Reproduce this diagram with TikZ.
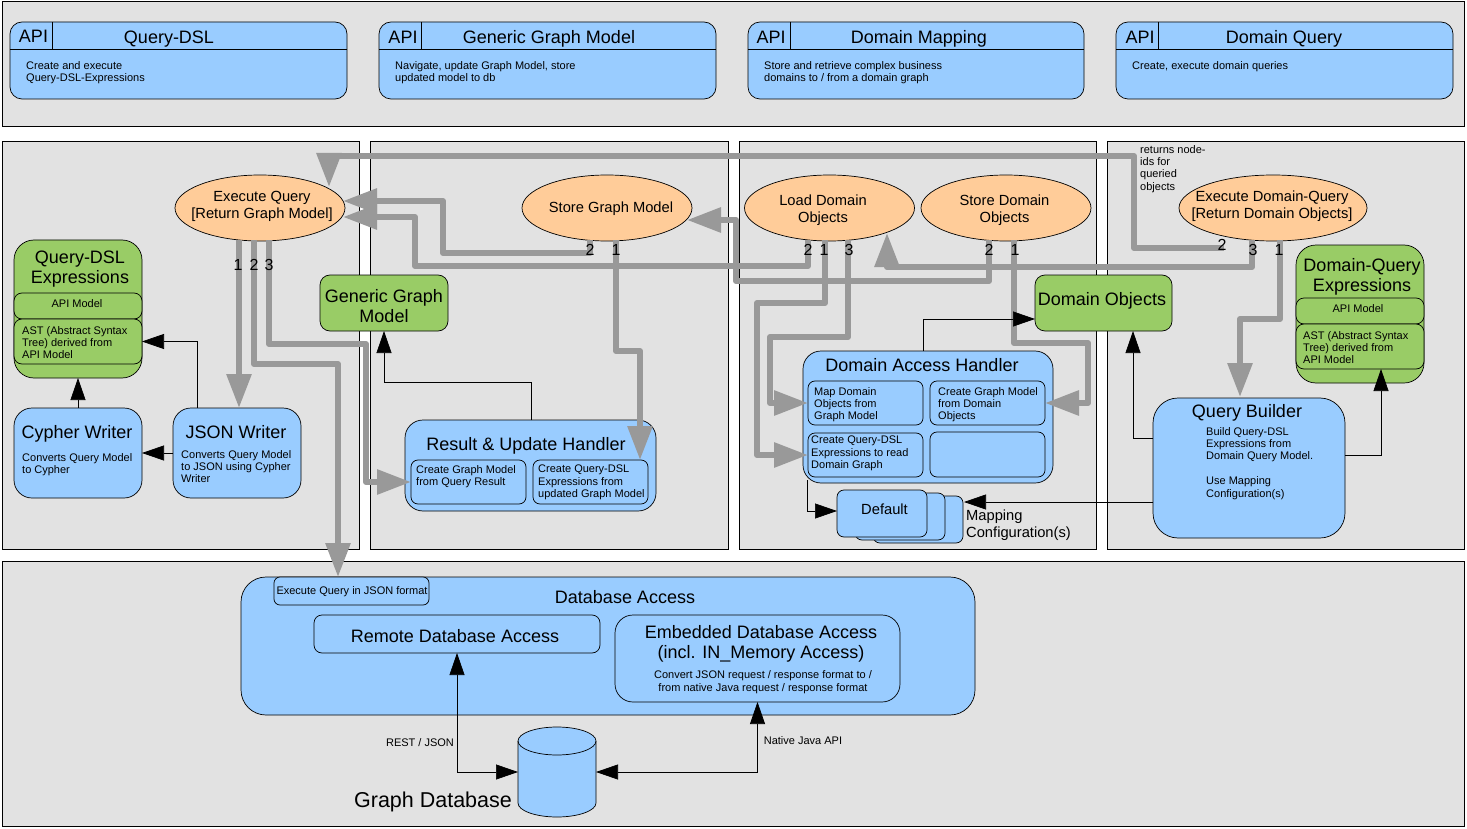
\documentclass[tikz,border=0pt]{standalone}
\usepackage{fontspec}
\setmainfont{Liberation Sans}
\usetikzlibrary{arrows.meta,shapes.geometric}
\definecolor{panelgrey}{HTML}{E2E2E2}
\definecolor{flowgrey}{HTML}{999999}
\definecolor{boxblue}{HTML}{99CCFF}
\definecolor{boxgreen}{HTML}{99CC66}
\definecolor{boxorange}{HTML}{FFCC99}
\newcommand{\bigfont}{\fontsize{18pt}{20pt}\selectfont}
\newcommand{\midfont}{\fontsize{14.7pt}{17pt}\selectfont}
\newcommand{\smallfont}{\fontsize{11pt}{12.4pt}\selectfont}
\tikzset{
  panel/.style={draw=black,line width=1pt,fill=panelgrey},
  box/.style={draw=black,line width=0.7pt,inner sep=0pt,outer sep=0pt},
  bluebox/.style={box,fill=boxblue},
  greenbox/.style={box,fill=boxgreen},
  usecase/.style={box,ellipse,fill=boxorange,minimum width=170pt,minimum height=66pt},
  bigtext/.style={inner sep=0pt,align=center,font=\bigfont},
  midtext/.style={inner sep=0pt,align=center,font=\midfont},
  smalltext/.style={inner sep=0pt,align=left,font=\smallfont,anchor=north west,yshift=-1pt},
  labeltext/.style={inner sep=0pt,align=center,font=\smallfont},
  portnum/.style={inner sep=0pt,font=\fontsize{16pt}{18pt}\selectfont},
  flow/.style={draw=flowgrey,line width=6pt,line join=round,-{Triangle[length=34pt,width=24pt]}},
  link/.style={draw=black,line width=0.7pt,-{Triangle[length=22pt,width=15pt]}},
  dblink/.style={draw=black,line width=0.7pt,{Triangle[length=22pt,width=15pt]}-{Triangle[length=22pt,width=15pt]}}
}
\begin{document}
\begin{tikzpicture}[x=1pt,y=-1pt]
\useasboundingbox (0,0) rectangle (1467,829);

% Panels
\draw[panel] (2,2) rectangle (1464,127);
\draw[panel] (2,142) rectangle (359,549);
\draw[panel] (370,142) rectangle (728,549);
\draw[panel] (739,142) rectangle (1096,549);
\draw[panel] (1107,142) rectangle (1464,549);
\draw[panel] (2,561) rectangle (1464,826);

% API boxes
\node[bluebox,rounded corners=12pt,minimum width=337pt,minimum height=77pt] (apidsl) at (178.5,60.5) {};
\node[bluebox,rounded corners=12pt,minimum width=337pt,minimum height=77pt] (apigraph) at (547.5,60.5) {};
\node[bluebox,rounded corners=12pt,minimum width=336pt,minimum height=77pt] (apimap) at (916,60.5) {};
\node[bluebox,rounded corners=12pt,minimum width=337pt,minimum height=77pt] (apiquery) at (1284.5,60.5) {};
\draw[box] (10,49) -- (347,49) (52,22) -- (52,49);
\draw[box] (379,49) -- (716,49) (421,22) -- (421,49);
\draw[box] (748,49) -- (1084,49) (790,22) -- (790,49);
\draw[box] (1116,49) -- (1453,49) (1158,22) -- (1158,49);
\node[bigtext] (apidsl1) at (33.5,36) {API};
\node[bigtext] (apigraph1) at (403,37) {API};
\node[bigtext] (apimap1) at (771,37) {API};
\node[bigtext] (apiquery1) at (1140,37) {API};
\node[bigtext] (apidsl2) at (169,39) {Query-DSL};
\node[bigtext] (apigraph2) at (549,39) {Generic Graph Model};
\node[bigtext] (apimap2) at (919,39) {Domain Mapping};
\node[bigtext] (apiquery2) at (1284,39) {Domain Query};
\node[smalltext] (apidsl3) at (26,60) {Create and execute\\Query-DSL-Expressions};
\node[smalltext] (apigraph3) at (395,60) {Navigate, update Graph Model, store\\updated model to db};
\node[smalltext] (apimap3) at (764,60) {Store and retrieve complex business\\domains to / from a domain graph};
\node[smalltext] (apiquery3) at (1132,60) {Create, execute domain queries};

% Use cases
\node[usecase] (execquery) at (260,208) {};
\node[usecase] (storegraph) at (607,208) {};
\node[usecase] (loaddomain) at (829.5,208) {};
\node[usecase] (storedomain) at (1006,208) {};
\node[usecase,minimum width=188pt] (execdomain) at (1273,208) {};
\node[midtext] (execquerytext) at (262,206) {Execute Query\\{[Return Graph Model]}};
\node[midtext] (storegraphtext) at (611,209) {Store Graph Model};
\node[midtext] (loaddomaintext) at (823,210.5) {Load Domain\\Objects};
\node[midtext] (storedomaintext) at (1004.5,210.5) {Store Domain\\Objects};
\node[midtext] (execdomaintext) at (1272,206) {Execute Domain-Query\\{[Return Domain Objects]}};

% Query-DSL side
\node[greenbox,rounded corners=20pt,minimum width=128pt,minimum height=138pt] (dslexpr) at (78,309) {};
\node[bigtext] (dsltitle) at (80,269) {Query-DSL\\Expressions};
\node[greenbox,rounded corners=8pt,minimum width=128pt,minimum height=26pt] (dslapi) at (78,306) {};
\node[greenbox,rounded corners=8pt,minimum width=128pt,minimum height=45pt] (dslast) at (78,341.5) {};
\node[labeltext] (dslapitext) at (77,304) {API Model};
\node[smalltext] (dslasttext) at (22,325) {AST (Abstract Syntax\\Tree) derived from\\API Model};
\node[bluebox,rounded corners=18pt,minimum width=128pt,minimum height=90pt] (cypher) at (78,453) {};
\node[bigtext] (cyphertitle) at (77,434) {Cypher Writer};
\node[smalltext] (cyphertext) at (22,452) {Converts Query Model\\to Cypher};
\node[bluebox,rounded corners=18pt,minimum width=128pt,minimum height=90pt] (json) at (237,453) {};
\node[bigtext] (jsontitle) at (236,432) {JSON Writer};
\node[smalltext] (jsontext) at (181,449) {Converts Query Model\\to JSON using Cypher\\Writer};

% Graph model side
\node[greenbox,rounded corners=10pt,minimum width=128pt,minimum height=56pt] (graphmodel) at (384,303) {};
\node[bigtext] (graphmodeltext) at (384,306) {Generic Graph\\Model};
\node[bluebox,rounded corners=18pt,minimum width=251pt,minimum height=91pt] (result) at (530.5,465.5) {};
\node[bigtext] (resulttitle) at (526,446) {Result \& Update Handler};
\node[bluebox,rounded corners=7pt,minimum width=115pt,minimum height=44pt] (result1) at (468.5,482) {};
\node[bluebox,rounded corners=7pt,minimum width=115pt,minimum height=44pt] (result2) at (590.5,482) {};
\node[smalltext] (result1text) at (416,464) {Create Graph Model\\from Query Result};
\node[smalltext] (result2text) at (538,464) {Create Query-DSL\\Expressions from\\updated Graph Model};

% Domain handler side
\node[bluebox,rounded corners=18pt,minimum width=250pt,minimum height=132pt] (handler) at (928,417) {};
\node[bigtext] (handlertitle) at (922,365) {Domain Access Handler};
\node[bluebox,rounded corners=7pt,minimum width=115pt,minimum height=44pt] (handler1) at (865.5,403) {};
\node[bluebox,rounded corners=7pt,minimum width=115pt,minimum height=44pt] (handler2) at (987.5,403) {};
\node[bluebox,rounded corners=7pt,minimum width=115pt,minimum height=44pt] (handler3) at (865.5,455) {};
\node[bluebox,rounded corners=7pt,minimum width=115pt,minimum height=45pt] (handler4) at (987.5,454.5) {};
\node[smalltext] (handler1text) at (814,386) {Map Domain\\Objects from\\Graph Model};
\node[smalltext] (handler2text) at (938,386) {Create Graph Model\\from Domain\\Objects};
\node[smalltext] (handler3text) at (811,435) {Create Query-DSL\\Expressions to read\\Domain Graph};

% Mapping stack
\node[bluebox,rounded corners=7pt,minimum width=90pt,minimum height=47pt] (stack3) at (918,519.5) {};
\node[bluebox,rounded corners=7pt,minimum width=90pt,minimum height=47pt] (stack2) at (900,516.5) {};
\node[bluebox,rounded corners=7pt,minimum width=90pt,minimum height=47pt] (stack1) at (882,513.5) {};
\node[midtext] (stack1text) at (884.5,509) {Default};
\node[midtext,align=left,anchor=north west] (mappingtext) at (966,510) {Mapping\\Configuration(s)};

% Domain objects and query builder
\node[greenbox,rounded corners=10pt,minimum width=137pt,minimum height=56pt] (domainobj) at (1103.5,303) {};
\node[bigtext] (domainobjtext) at (1102,301) {Domain Objects};
\node[greenbox,rounded corners=20pt,minimum width=128pt,minimum height=138pt] (dqexpr) at (1360,314) {};
\node[bigtext] (dqtitle) at (1362,277) {Domain-Query\\Expressions};
\node[greenbox,rounded corners=8pt,minimum width=128pt,minimum height=26pt] (dqapi) at (1360,311) {};
\node[greenbox,rounded corners=8pt,minimum width=128pt,minimum height=45pt] (dqast) at (1360,346.5) {};
\node[labeltext] (dqapitext) at (1358,309) {API Model};
\node[smalltext] (dqasttext) at (1303,330) {AST (Abstract Syntax\\Tree) derived from\\API Model};
\node[bluebox,rounded corners=25pt,minimum width=192pt,minimum height=140pt] (builder) at (1249,468) {};
\node[bigtext] (buildertitle) at (1247,413) {Query Builder};
\node[smalltext] (buildertext) at (1206,426) {Build Query-DSL\\Expressions from\\Domain Query Model.\\ \\Use Mapping\\Configuration(s)};
\node[smalltext] (returnstext) at (1140,144) {returns node-\\ids for\\queried\\objects};

% Database
\node[bluebox,rounded corners=25pt,minimum width=734pt,minimum height=138pt] (dbaccess) at (608,646) {};
\node[bigtext] (dbtitle) at (625,597) {Database Access};
\node[bluebox,rounded corners=6pt,minimum width=155pt,minimum height=28pt] (jsonquery) at (351.5,591) {};
\node[labeltext] (jsonquerytext) at (352,592) {Execute Query in JSON format};
\node[bluebox,rounded corners=8pt,minimum width=286pt,minimum height=38pt] (remote) at (457,634) {};
\node[bigtext] (remotetext) at (455,636) {Remote Database Access};
\node[bluebox,rounded corners=18pt,minimum width=285pt,minimum height=87pt] (embedded) at (757.5,658.5) {};
\node[bigtext] (embeddedtitle) at (761,644) {Embedded Database Access\\(incl. IN\_Memory Access)};
\node[labeltext] (embeddedtext) at (763,682) {Convert JSON request / response format to /\\from native Java request / response format};
\filldraw[box,fill=boxblue] (518,741) .. controls (518,733.3) and (535.55,727) .. (557,727) .. controls (578.45,727) and (596,733.3) .. (596,741) -- (596,803) .. controls (596,810.7) and (578.45,817) .. (557,817) .. controls (535.55,817) and (518,810.7) .. (518,803) -- cycle;
\draw[box] (518,741) .. controls (518,748.7) and (535.55,755) .. (557,755) .. controls (578.45,755) and (596,748.7) .. (596,741);
\node[inner sep=0pt,font=\fontsize{21.5pt}{24pt}\selectfont] (graphdbtext) at (433,802) {Graph Database};
\node[labeltext] (resttext) at (420,743) {REST / JSON};
\node[labeltext] (nativetext) at (803,741) {Native Java API};

% Ports
\coordinate (eqout1) at (239,240);
\coordinate (eqout2) at (254,240);
\coordinate (eqout3) at (269,240);
\coordinate (eqin1) at (329,187);
\coordinate (eqin2) at (343,201);
\coordinate (eqin3) at (343,217);
\coordinate (sgout1) at (616,240);
\coordinate (sgout2) at (590,240);
\coordinate (sgin) at (687,220);
\coordinate (ldout1) at (825,240);
\coordinate (ldout2) at (808,240);
\coordinate (ldout3) at (848,240);
\coordinate (ldin) at (887,233);
\coordinate (sdout1) at (1014,240);
\coordinate (sdout2) at (989,240);
\coordinate (edout1) at (1280,240);
\coordinate (edout2) at (1224,248);
\coordinate (edout3) at (1252,240);
\coordinate (jsonout) at (197,408);
\coordinate (resultout) at (531,420);
\coordinate (handlerout) at (923,351);
\coordinate (handlerdown) at (807,480);
\coordinate (domainin) at (1035,319);
\coordinate (stackin) at (837,511);
\coordinate (builderout1) at (1153,438);
\coordinate (builderout2) at (1345,455);
\coordinate (builderout3) at (1153,502);
\coordinate (dbleft) at (518,772);
\coordinate (dbright) at (596,772);

% Thick call flows
\draw[flow] (eqout1) -- (eqout1 |- json.north);
\draw[flow] (eqout2) -- (254,364) -- (338,364) -- (338,577);
\draw[flow] (eqout3) -- (269,344) -- (366,344) -- (366,482) -- (result1.west);
\draw[flow] (edout2) -- (1134,248) -- (1134,156) -- (329,156) -- (eqin1);
\draw[flow] (sgout2) -- (590,253) -- (443,253) -- (443,201) -- (eqin2);
\draw[flow] (ldout2) -- (808,266) -- (415,266) -- (415,217) -- (eqin3);
\draw[flow] (sgout1) -- (616,351) -- (640,351) -- (640,460);
\draw[flow] (ldout1) -- (825,303) -- (757,303) -- (757,455) -- (handler3.west);
\draw[flow] (ldout3) -- (848,337) -- (770,337) -- (770,403) -- (handler1.west);
\draw[flow] (sdout2) -- (989,281) -- (736,281) -- (736,220) -- (sgin);
\draw[flow] (sdout1) -- (1014,343) -- (1088,343) -- (1088,403) -- (handler2.east);
\draw[flow] (edout3) -- (1252,267) -- (887,267) -- (ldin);
\draw[flow] (edout1) -- (1280,319) -- (1240,319) -- (1240,397);

% Thin links
\draw[link] (cypher.north) -- (dslexpr.south);
\draw[link] (jsonout) |- (dslast.east);
\draw[link] (json.west) -- (cypher.east);
\draw[link] (resultout) -- (531,382) -- (384,382) -- (graphmodel.south);
\draw[link] (handlerout) |- (domainin);
\draw[link] (handlerdown) |- (stackin);
\draw[link] (builderout1) -- (1133,438) -- (1133,331);
\draw[link] (builderout2) -- (1381,455) -- (1381,369);
\draw[link] (builderout3) -- (964,502);
\draw[dblink] (remote.south) |- (dbleft);
\draw[dblink] (embedded.south) |- (dbright);

% Port numbers
\node[portnum] (eqnum1) at (238,265) {1};
\node[portnum] (eqnum2) at (254,265) {2};
\node[portnum] (eqnum3) at (269,265) {3};
\node[portnum] (sgnum2) at (590,250) {2};
\node[portnum] (sgnum1) at (616,250) {1};
\node[portnum] (ldnum2) at (808,250) {2};
\node[portnum] (ldnum1) at (824,250) {1};
\node[portnum] (ldnum3) at (849,250) {3};
\node[portnum] (sdnum2) at (989,250) {2};
\node[portnum] (sdnum1) at (1015,250) {1};
\node[portnum] (ednum2) at (1222,245) {2};
\node[portnum] (ednum3) at (1253,250) {3};
\node[portnum] (ednum1) at (1279,250) {1};
\end{tikzpicture}
\end{document}
